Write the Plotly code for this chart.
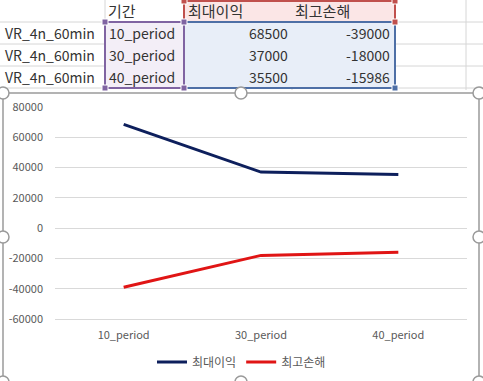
import plotly.graph_objects as go

# ---- data ----
strategy = ["VR_4n_60min", "VR_4n_60min", "VR_4n_60min"]
periods = ["10_period", "30_period", "40_period"]
max_profit = [68500, 37000, 35500]
max_loss = [-39000, -18000, -15986]
col_headers = ["기간", "최대이익", "최고손해"]
series_names = ["최대이익", "최고손해"]
y_ticks = [-60000, -40000, -20000, 0, 20000, 40000, 60000, 80000]

W, H = 483, 381
def X(p):
    return p / W
def Y(p):
    return 1 - p / H

FONT = "Noto Sans CJK KR"
NAVY = "#0D1F5C"
RED = "#E01515"

fig = go.Figure()
fig.add_trace(go.Scatter(x=periods, y=max_profit, name=series_names[0], mode="lines",
                         line=dict(color=NAVY, width=3)))
fig.add_trace(go.Scatter(x=periods, y=max_loss, name=series_names[1], mode="lines",
                         line=dict(color=RED, width=3)))

shapes = []
annotations = []

# ---- spreadsheet grid ----
grid_c = "#D6D6D6"
for gx in [105, 184, 292, 395, 466]:
    shapes.append(dict(type="line", xref="paper", yref="paper", x0=X(gx), x1=X(gx),
                       y0=Y(0), y1=Y(90), line=dict(color=grid_c, width=1), layer="below"))
for gy in [22, 44, 66, 88]:
    shapes.append(dict(type="line", xref="paper", yref="paper", x0=X(0), x1=X(483),
                       y0=Y(gy), y1=Y(gy), line=dict(color=grid_c, width=1), layer="below"))
def rect(x0, y0, x1, y1, fill, line=None, width=0, layer="below"):
    d = dict(type="rect", xref="paper", yref="paper", x0=X(x0), x1=X(x1), y0=Y(y1), y1=Y(y0),
             fillcolor=fill, layer=layer)
    d["line"] = dict(color=line, width=width) if line else dict(width=0)
    return d
shapes.append(rect(184, 1, 395, 22, "#FBE6E6"))
shapes.append(rect(184, 22, 395, 88, "#E8EEF8"))
shapes.append(rect(105, 22, 184, 88, "#F3EEF7"))
shapes.append(rect(184, 1, 395, 22, "rgba(0,0,0,0)", "#C0504D", 2, "above"))
shapes.append(rect(184, 22, 395, 88, "rgba(0,0,0,0)", "#4E6FA6", 2, "above"))
shapes.append(rect(105, 22, 184, 88, "rgba(0,0,0,0)", "#8064A2", 2, "above"))
for (cx, cy, col) in [(105, 22, "#8064A2"), (184, 22, "#8064A2"), (105, 88, "#8064A2"),
                      (184, 88, "#8064A2"), (184, 1, "#C0504D"), (395, 1, "#C0504D"),
                      (395, 22, "#C0504D"), (395, 88, "#4E6FA6")]:
    shapes.append(rect(cx - 3, cy - 3, cx + 3, cy + 3, col, "white", 1, "above"))

def txt(s, x, y, anchor, size=14):
    annotations.append(dict(text=s, xref="paper", yref="paper", x=X(x), y=Y(y),
                            xanchor=anchor, yanchor="middle", showarrow=False,
                            font=dict(family=FONT, size=size, color="#333333")))
txt(col_headers[0], 106, 11, "left", 15)
txt(col_headers[1], 186, 11, "left", 15)
txt(col_headers[2], 293, 11, "left", 15)
for i in range(3):
    yy = 33 + 22 * i
    txt(strategy[i], 3, yy, "left")
    txt(periods[i], 107, yy, "left")
    txt(str(max_profit[i]), 290, yy, "right")
    txt(str(max_loss[i]), 392, yy, "right")

# ---- chart frame ----
frame_c = "#9A9A9A"
shapes.append(dict(type="line", xref="paper", yref="paper", x0=X(3), x1=X(479), y0=Y(93), y1=Y(93),
                   line=dict(color=frame_c, width=1.5)))
shapes.append(dict(type="line", xref="paper", yref="paper", x0=X(3), x1=X(3), y0=Y(93), y1=Y(381),
                   line=dict(color=frame_c, width=1.5)))
shapes.append(dict(type="line", xref="paper", yref="paper", x0=X(479), x1=X(479), y0=Y(93), y1=Y(381),
                   line=dict(color=frame_c, width=1.5)))
for (cx, cy) in [(3, 93), (241, 93), (479, 93), (3, 237), (479, 237), (241, 382), (3, 382), (479, 382)]:
    shapes.append(dict(type="circle", xref="paper", yref="paper", x0=X(cx - 6), x1=X(cx + 6),
                       y0=Y(cy + 6), y1=Y(cy - 6), fillcolor="white",
                       line=dict(color=frame_c, width=1.5), layer="above"))

fig.update_layout(
    width=W, height=H, margin=dict(l=0, r=0, t=0, b=0, autoexpand=False),
    paper_bgcolor="white", plot_bgcolor="white",
    font=dict(family=FONT, size=11, color="#595959"),
    showlegend=True,
    legend=dict(orientation="h", x=0.5, xanchor="center", y=Y(362), yanchor="middle",
                font=dict(family=FONT, size=12, color="#595959"), itemwidth=30,
                bgcolor="rgba(0,0,0,0)"),
    xaxis=dict(domain=[X(55), X(467)], range=[-0.5, 2.5], showgrid=False, zeroline=False,
               showline=True, linecolor="#D9D9D9", linewidth=1, ticks="",
               tickfont=dict(size=11, color="#595959"), ticklabelstandoff=6),
    yaxis=dict(domain=[Y(319), Y(107)], range=[-60000, 80000], tickvals=y_ticks,
               ticktext=[str(v) for v in y_ticks], showgrid=True, gridcolor="#D9D9D9",
               gridwidth=1, zeroline=False, showline=False, ticks="",
               tickfont=dict(size=11, color="#595959"), ticklabelstandoff=11),
    shapes=shapes, annotations=annotations,
)

post = ("document.body.style.margin='0';document.body.style.padding='0';"
        "document.documentElement.style.overflow='hidden';"
        "var gd=document.getElementById('{plot_id}');"
        "gd.style.position='fixed';gd.style.top='0px';gd.style.left='0px';")
fig.write_html("out.html", config={"displayModeBar": False, "responsive": False},
               post_script=post)
